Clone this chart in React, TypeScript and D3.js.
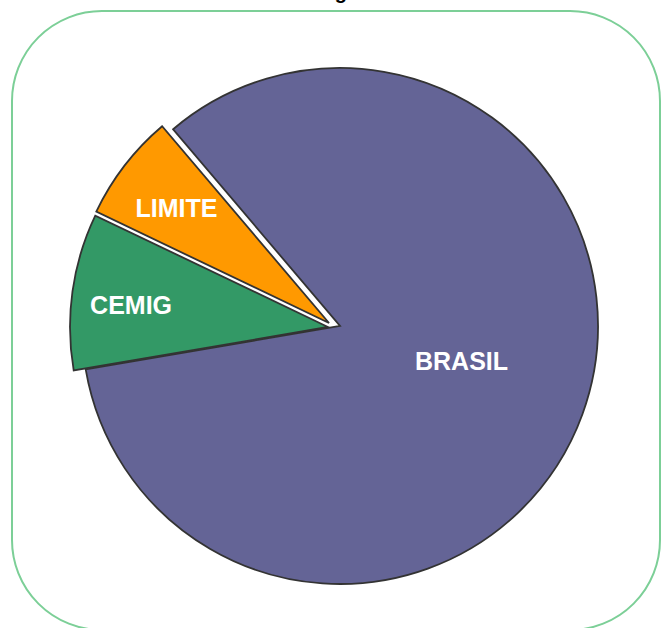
import React from "react";
import * as d3 from "d3";

const categories = ["BRASIL", "CEMIG", "LIMITE"];
const values = [83.5, 9.8, 6.7];
const colors = ["#646496", "#339966", "#FF9900"];
const titleText = "Energia";

// styling: explosion offsets and label placement per slice
const explodeDx = [0, -12, -11];
const explodeDy = [0, 1, -3];
const labelFrac = [0.49, 0.768, 0.741];
const labelShiftDeg = [-4, -1.6, -0.6];

const W = 662;
const H = 628;
const cx = 340;
const cy = 326;
const R = 258;
const startDeg = -40.3;

export default function App() {
  const start = (startDeg * Math.PI) / 180;
  const pie = d3
    .pie<number>()
    .sort(null)
    .value((d) => d)
    .startAngle(start)
    .endAngle(start + 2 * Math.PI);
  const arcs = pie(values);
  const arc = d3.arc<d3.PieArcDatum<number>>().innerRadius(0).outerRadius(R);

  return (
    <svg
      width={W}
      height={H}
      style={{ position: "absolute", left: 0, top: 0, background: "#fff" }}
      fontFamily="'Liberation Sans', Arial, sans-serif"
    >
      <text x={327} y={-1} textAnchor="middle" fontSize={20} fontWeight="bold" fill="#000">
        {titleText}
      </text>
      <rect x={12} y={11} width={648} height={619} rx={90} ry={90} fill="none" stroke="#7ccf97" strokeWidth={2} />
      {arcs.map((a, i) => {
        const mid = (a.startAngle + a.endAngle) / 2 + (labelShiftDeg[i] * Math.PI) / 180;
        const lr = R * labelFrac[i];
        const lx = Math.sin(mid) * lr;
        const ly = -Math.cos(mid) * lr;
        return (
          <g key={categories[i]} transform={`translate(${cx + explodeDx[i]},${cy + explodeDy[i]})`}>
            <path d={arc(a) || ""} fill={colors[i]} stroke="#333333" strokeWidth={1.8} strokeLinejoin="miter" />
            <text
              x={lx}
              y={ly}
              textAnchor="middle"
              dominantBaseline="central"
              fill="#ffffff"
              fontSize={25}
              fontWeight="bold"
            >
              {categories[i]}
            </text>
          </g>
        );
      })}
    </svg>
  );
}
